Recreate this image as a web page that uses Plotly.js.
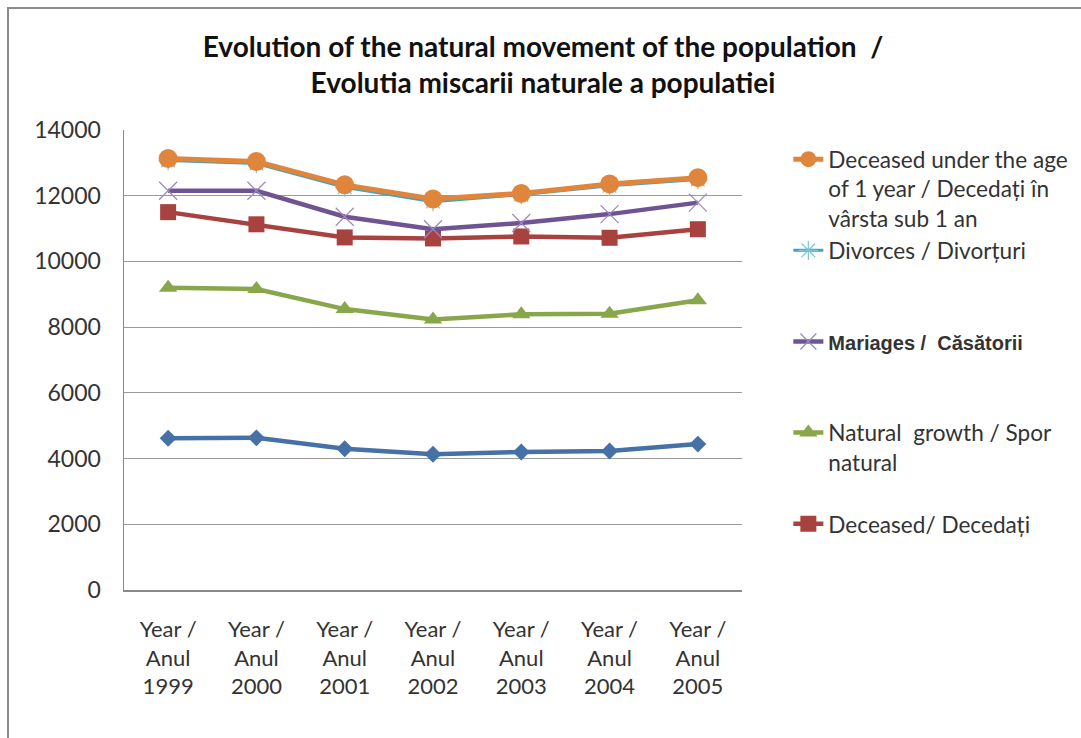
<!DOCTYPE html>
<html>
<head>
<meta charset="utf-8">
<script src="https://cdn.plot.ly/plotly-3.0.1.min.js"></script>
<style>
  html, body { margin: 0; padding: 0; background: #fff; }
  #wrap { position: relative; width: 1081px; height: 738px; overflow: hidden; }
  #chart { position: absolute; left: 0; top: 0; width: 1081px; height: 738px; }
  #frame { position: absolute; left: 7px; top: 7px; width: 1100px; height: 760px;
           border-top: 2px solid #8c8c8c; border-left: 2px solid #8c8c8c; pointer-events: none; }
</style>
</head>
<body>
<div id="wrap">
  <div id="chart"></div>
  <div id="frame"></div>
</div>
<script>
// Category labels (years)
const years = ['1999', '2000', '2001', '2002', '2003', '2004', '2005'];
const yearLabels = years.map(y => 'Year /<br>Anul<br>' + y);

// Series values
const deceasedUnder1 = [13130, 13040, 12330, 11900, 12070, 12360, 12550];
const divorces       = [13070, 12980, 12260, 11820, 12030, 12300, 12490];
const mariages       = [12150, 12150, 11360, 10980, 11170, 11440, 11790];
const deceased       = [11500, 11130, 10730, 10700, 10760, 10720, 10980];
const naturalGrowth  = [9200, 9160, 8550, 8230, 8390, 8410, 8820];
const unnamedSeries  = [4620, 4630, 4300, 4130, 4200, 4230, 4440];

// Legend texts
const nameDeceasedUnder1 = 'Deceased under the age<br>of 1 year / Decedați în<br>vârsta sub 1 an';
const nameDivorces = 'Divorces / Divorțuri<br>\u00a0<br>\u00a0';
const nameMariages = '<span style="font-family:Liberation Sans;font-weight:bold;font-size:20px">Mariages /\u00a0 Căsătorii</span><br>\u00a0<br>\u00a0';
const nameNaturalGrowth = 'Natural\u00a0 growth / Spor<br>natural<br>\u00a0';
const nameDeceased = 'Deceased/ Decedați';

const yTicks = [0, 2000, 4000, 6000, 8000, 10000, 12000, 14000];
const gridTicks = [2000, 4000, 6000, 8000, 10000, 12000];

const C = {
  orange: '#E0863C', cyan: '#43A3BC', purple: '#6E5493',
  red: '#A8423F', green: '#88A64A', blue: '#4571A6'
};

const traces = [
  { x: yearLabels, y: unnamedSeries, name: '', showlegend: false, mode: 'lines+markers',
    line: { color: C.blue, width: 4.5 },
    marker: { symbol: 'diamond', size: 13, color: C.blue } },
  { x: yearLabels, y: naturalGrowth, name: nameNaturalGrowth, legendrank: 4, mode: 'lines+markers',
    line: { color: C.green, width: 4.5 },
    marker: { symbol: 'triangle-up', size: 16, color: C.green } },
  { x: yearLabels, y: deceased, name: nameDeceased, legendrank: 5, mode: 'lines+markers',
    line: { color: C.red, width: 4.5 },
    marker: { symbol: 'square', size: 16, color: C.red } },
  { x: yearLabels, y: mariages, name: nameMariages, legendrank: 3, mode: 'lines+markers',
    line: { color: C.purple, width: 4.5 },
    marker: { symbol: 'x-thin-open', size: 18, color: '#9C88BE', line: { width: 1.2, color: '#9C88BE' } } },
  { x: yearLabels, y: divorces, name: nameDivorces, legendrank: 2, mode: 'lines+markers',
    line: { color: C.cyan, width: 3 },
    marker: { symbol: 'asterisk-open', size: 16, color: '#7CC3D6', line: { width: 1.2, color: '#7CC3D6' } } },
  { x: yearLabels, y: deceasedUnder1, name: nameDeceasedUnder1, legendrank: 1, mode: 'lines+markers',
    line: { color: C.orange, width: 5 },
    marker: { symbol: 'circle', size: 19, color: C.orange } }
];

// Grid-only overlay axis so no gridline is drawn along the top edge
traces.push({ x: yearLabels, y: [null, null, null, null, null, null, null], yaxis: 'y2',
  showlegend: false, hoverinfo: 'skip', mode: 'lines' });

const layout = {
  width: 1081, height: 738,
  margin: { l: 124, r: 339, t: 130, b: 148, autoexpand: false },
  paper_bgcolor: '#ffffff', plot_bgcolor: 'rgba(0,0,0,0)',
  font: { family: 'Lato, sans-serif', color: '#2b2b2b', size: 22 },
  title: {
    text: '<b>Evolution of the natural movement of the population  /<br>Evolutia miscarii naturale a populatiei</b>',
    x: 543 / 1081, xanchor: 'center', xref: 'container',
    y: 1 - 57 / 738, yanchor: 'top', yref: 'container',
    font: { family: 'Lato, sans-serif', size: 28, color: '#111' }
  },
  xaxis: {
    type: 'category', range: [-0.5, 6.5], showgrid: false,
    showline: true, linecolor: '#8a8a8a', linewidth: 1.5,
    ticks: '', tickfont: { size: 22, color: '#333' }, ticklabelstandoff: 19,
    fixedrange: true
  },
  yaxis: {
    range: [0, 14000], tickvals: yTicks, ticktext: yTicks.map(String),
    showgrid: false, zeroline: false,
    showline: true, linecolor: '#8a8a8a', linewidth: 1.5,
    ticks: '', tickfont: { size: 23, color: '#333' }, ticklabelstandoff: 17,
    fixedrange: true
  },
  yaxis2: {
    overlaying: 'y', range: [0, 14000], tickvals: gridTicks,
    showgrid: true, gridcolor: '#9a9a9a', gridwidth: 1.2,
    showticklabels: false, zeroline: false, showline: false, fixedrange: true
  },
  legend: {
    x: 1.075, xanchor: 'left', y: 1 - 8 / 460, yanchor: 'top',
    valign: 'top', font: { size: 22.6, color: '#333' },
    traceorder: 'normal', tracegroupgap: 0, itemclick: false, itemdoubleclick: false,
    bgcolor: 'rgba(0,0,0,0)'
  },
  showlegend: true
};

Plotly.newPlot('chart', traces, layout, { staticPlot: true, displayModeBar: false });
</script>
</body>
</html>
